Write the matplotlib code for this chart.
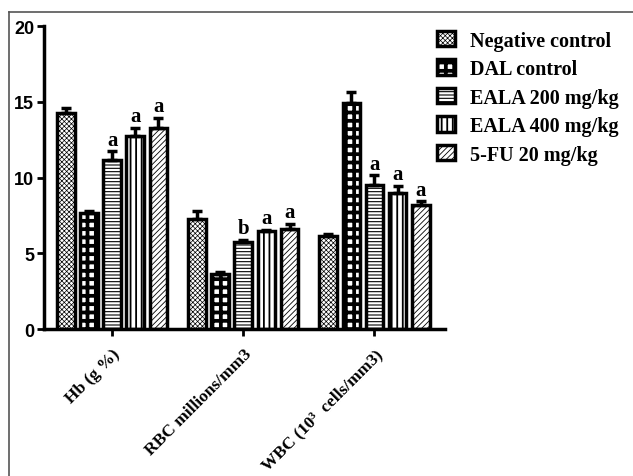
import numpy as np
import matplotlib.pyplot as plt
from matplotlib.lines import Line2D

plt.rcParams['hatch.linewidth'] = 0.8

# DATA
categories = ['Hb (g %)', 'RBC millions/mm3', 'WBC (10³  cells/mm3)']
groups = ['Negative control', 'DAL control', 'EALA 200 mg/kg', 'EALA 400 mg/kg', '5-FU 20 mg/kg']
means = [
    [14.3, 7.3, 6.15],   # Negative control
    [7.65, 3.65, 14.95], # DAL control
    [11.15, 5.75, 9.5],  # EALA 200
    [12.75, 6.45, 9.0],  # EALA 400
    [13.3, 6.6, 8.2],    # 5-FU
]
errs = [
    [0.3, 0.5, 0.12],
    [0.15, 0.15, 0.7],
    [0.6, 0.15, 0.65],
    [0.55, 0.1, 0.45],
    [0.65, 0.35, 0.25],
]
marks = [
    ['', '', ''],
    ['', '', ''],
    ['a', 'b', 'a'],
    ['a', 'a', 'a'],
    ['a', 'a', 'a'],
]
hatches = ['xxxxxxx', '++', '-----', '|||', '//////']
hatch_lw = [0.5, 2.7, 0.8, 1.3, 0.6]

fig = plt.figure(figsize=(6.33, 4.77), dpi=100)
ax = fig.add_axes([0.0695, 0.308, 0.634, 0.635])

x = np.arange(len(categories))
pitch = 0.176
width = 0.135
for i, g in enumerate(groups):
    xs = x + (i - 2) * pitch
    bars = ax.bar(xs, means[i], width, color='white', edgecolor='black', linewidth=2.5,
                  hatch=hatches[i], label=g, zorder=2)
    for b in bars:
        try:
            b.set_hatch_linewidth(hatch_lw[i])
        except AttributeError:
            pass
    ax.errorbar(xs, means[i], yerr=[np.zeros(3), errs[i]], fmt='none', ecolor='black',
                elinewidth=2.5, capsize=3.5, capthick=2.5, zorder=3)
    for j in range(3):
        if marks[i][j]:
            ax.text(xs[j], means[i][j] + errs[i][j] + 0.1, marks[i][j], ha='center', va='bottom',
                    family='Liberation Serif', fontweight='bold', fontsize=15)

ax.set_xlim(-0.52, 2.54)
ax.set_ylim(0, 20)
ax.set_yticks([0, 5, 10, 15, 20])
ax.set_xticks(x)
ax.set_xticklabels(categories, rotation=45, ha='right', rotation_mode='anchor',
                   family='Liberation Serif', fontweight='bold', fontsize=12.5)
for lab in ax.get_yticklabels():
    lab.set_fontweight('bold')
    lab.set_fontsize(13)
    lab.set_family('Liberation Sans')
ax.tick_params(axis='both', width=2, length=5, pad=2)
ax.tick_params(axis='x', pad=7)
for s in ['top', 'right']:
    ax.spines[s].set_visible(False)
for s in ['left', 'bottom']:
    ax.spines[s].set_linewidth(2.5)

leg = ax.legend(loc='upper left', bbox_to_anchor=(0.935, 1.045), frameon=False,
                prop={'family': 'Liberation Serif', 'weight': 'bold', 'size': 14.5},
                handlelength=0.9, handleheight=0.8, labelspacing=0.42, handletextpad=0.7)
for p, lw in zip(leg.get_patches(), hatch_lw):
    try:
        p.set_hatch_linewidth(lw)
    except AttributeError:
        pass

# outer frame
fig.add_artist(Line2D([0.0142, 1.0], [0.973, 0.973], color='#555555', linewidth=1.2))
fig.add_artist(Line2D([0.0142, 0.0142], [0.0, 0.973], color='#555555', linewidth=1.2))

fig.savefig('out.png', dpi=100)
